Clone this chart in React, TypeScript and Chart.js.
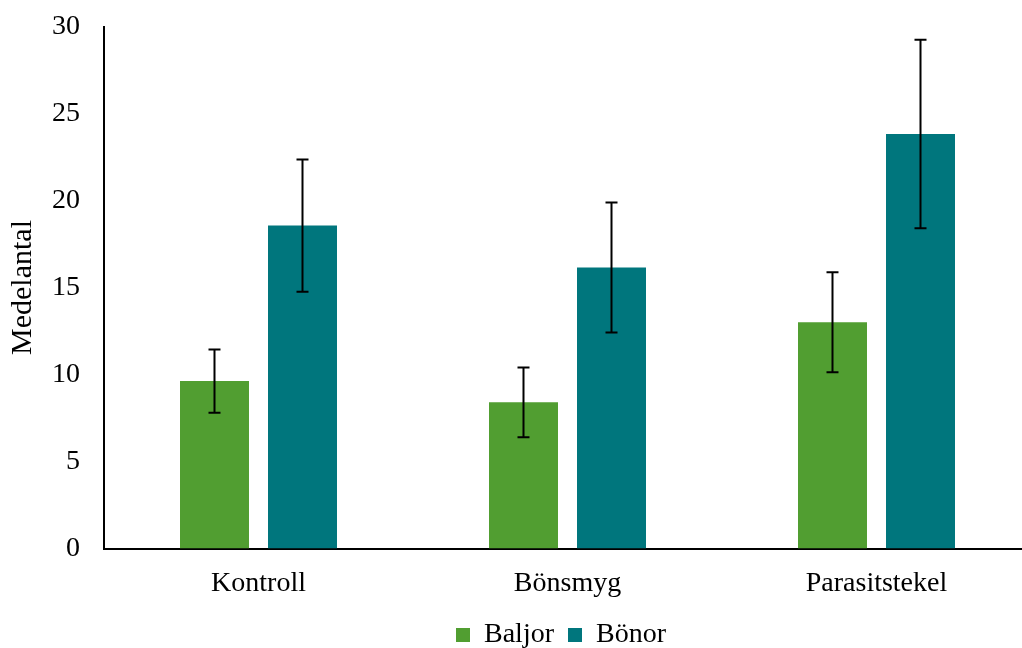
import React, { useEffect, useRef } from 'react';
import { Chart, registerables } from 'chart.js';

Chart.register(...registerables);

const categories = ['Kontroll', 'Bönsmyg', 'Parasitstekel'];
const seriesNames = ['Baljor', 'Bönor'];
const baljorValues = [9.62, 8.4, 13.0];
const bonorValues = [18.56, 16.15, 23.82];
const baljorErrors = [1.82, 2.0, 2.87];
const bonorErrors = [3.8, 3.74, 5.42];
const yTickValues = [0, 5, 10, 15, 20, 25, 30];
const yAxisTitle = 'Medelantal';

const errorSets = [baljorErrors, bonorErrors];
const FONT_FAMILY = '"Liberation Serif", "Times New Roman", serif';

const errorBarPlugin = {
  id: 'errorBars',
  afterDatasetsDraw(chart: any) {
    const ctx = chart.ctx;
    const yScale = chart.scales.y;
    chart.data.datasets.forEach((ds: any, i: number) => {
      const meta = chart.getDatasetMeta(i);
      const errs = errorSets[i];
      meta.data.forEach((bar: any, j: number) => {
        const v = ds.data[j] as number;
        const e = errs[j];
        const top = yScale.getPixelForValue(v + e);
        const bot = yScale.getPixelForValue(v - e);
        const x = bar.x;
        ctx.save();
        ctx.strokeStyle = '#000';
        ctx.lineWidth = 2;
        ctx.beginPath();
        ctx.moveTo(x, top);
        ctx.lineTo(x, bot);
        ctx.moveTo(x - 6, top);
        ctx.lineTo(x + 6, top);
        ctx.moveTo(x - 6, bot);
        ctx.lineTo(x + 6, bot);
        ctx.stroke();
        ctx.restore();
      });
    });
  },
};

export default function App() {
  const ref = useRef<HTMLCanvasElement>(null);

  useEffect(() => {
    document.body.style.margin = '0';
    const canvas = ref.current;
    if (!canvas) return;
    const font = { family: FONT_FAMILY, size: 28 };
    const titleFont = { family: FONT_FAMILY, size: 30 };
    const chart = new Chart(canvas, {
      type: 'bar',
      data: {
        labels: categories,
        datasets: [
          {
            label: seriesNames[0],
            data: baljorValues,
            backgroundColor: '#519E31',
            borderWidth: 0,
            categoryPercentage: 0.5696,
            barPercentage: 0.784,
          },
          {
            label: seriesNames[1],
            data: bonorValues,
            backgroundColor: '#00767D',
            borderWidth: 0,
            categoryPercentage: 0.5696,
            barPercentage: 0.784,
          },
        ],
      },
      options: {
        responsive: false,
        animation: false,
        devicePixelRatio: 1,
        layout: { padding: { top: 26.5, left: 0, right: 0, bottom: 0 } },
        plugins: {
          legend: {
            position: 'bottom',
            labels: {
              boxWidth: 14,
              boxHeight: 14,
              padding: 14,
              color: '#000',
              font,
            },
          },
          tooltip: { enabled: false },
          title: { display: false },
        },
        scales: {
          x: {
            grid: { display: false, drawTicks: false },
            border: { display: true, color: '#000', width: 2 },
            ticks: { color: '#000', font, padding: 18 },
            afterFit: (s: any) => {
              s.height = 58.5;
              s.paddingLeft = 0;
              s.paddingRight = 0;
            },
          },
          y: {
            min: 0,
            max: 30,
            grid: { display: false, drawTicks: false },
            border: { display: true, color: '#000', width: 2 },
            ticks: { color: '#000', font, padding: 24, stepSize: 5 },
            afterBuildTicks: (s: any) => {
              s.ticks = yTickValues.map((v) => ({ value: v }));
            },
            title: {
              display: true,
              text: yAxisTitle,
              color: '#000',
              font: titleFont,
              padding: { top: 5, bottom: 0 },
            },
            afterFit: (s: any) => {
              s.width = 104;
              s.paddingTop = 0;
              s.paddingBottom = 0;
            },
          },
          yR: {
            position: 'right',
            display: true,
            grid: { display: false, drawTicks: false },
            border: { display: false },
            ticks: { display: false },
            afterFit: (s: any) => {
              s.width = 91;
              s.paddingTop = 0;
              s.paddingBottom = 0;
            },
          },
        },
      },
      plugins: [errorBarPlugin],
    } as any);
    return () => chart.destroy();
  }, []);

  return (
    <div style={{ width: 1022, height: 648, overflow: 'hidden', position: 'relative', background: '#fff' }}>
      <canvas ref={ref} width={1122} height={659} style={{ display: 'block', width: 1122, height: 659 }} />
    </div>
  );
}
